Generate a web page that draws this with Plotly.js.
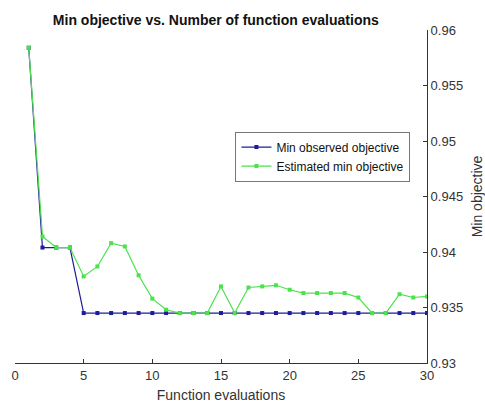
<!DOCTYPE html>
<html><head><meta charset="utf-8">
<script src="https://cdn.plot.ly/plotly-3.0.1.min.js"></script>
<style>html,body{margin:0;padding:0;background:#fff}#c{width:485px;height:403px}</style>
</head><body><div id="c"></div><script>
const evals = [1,2,3,4,5,6,7,8,9,10,11,12,13,14,15,16,17,18,19,20,21,22,23,24,25,26,27,28,29,30];
const minObserved = [0.9584,0.9404,0.9404,0.9404,0.9345,0.9345,0.9345,0.9345,0.9345,0.9345,0.9345,0.9345,0.9345,0.9345,0.9345,0.9345,0.9345,0.9345,0.9345,0.9345,0.9345,0.9345,0.9345,0.9345,0.9345,0.9345,0.9345,0.9345,0.9345,0.9345];
const estimatedMin = [0.9584,0.9414,0.9404,0.9404,0.9378,0.9387,0.9408,0.9405,0.9379,0.9358,0.9348,0.9345,0.9345,0.9345,0.9369,0.9345,0.9368,0.9369,0.9370,0.9366,0.9363,0.9363,0.9363,0.9363,0.9359,0.9345,0.9345,0.9362,0.9359,0.9360];
const xTicks = [0,5,10,15,20,25,30];
const yTicks = [0.93,0.935,0.94,0.945,0.95,0.955,0.96];
const yTickText = ['0.93','0.935','0.94','0.945','0.95','0.955','0.96'];

const font = 'Liberation Sans, Arial, sans-serif';
const traces = [
  {x: evals, y: minObserved, name: 'Min observed objective', type: 'scatter', mode: 'lines+markers',
   line: {color: '#1c1c9c', width: 1.2}, marker: {color: '#1c1c9c', size: 4, symbol: 'square'}},
  {x: evals, y: estimatedMin, name: 'Estimated min objective', type: 'scatter', mode: 'lines+markers',
   line: {color: '#4be24b', width: 1.2}, marker: {color: '#4be24b', size: 4, symbol: 'square'}}
];
const layout = {
  width: 485, height: 403,
  margin: {l: 15, r: 58, t: 30, b: 40},
  paper_bgcolor: '#fff', plot_bgcolor: '#fff',
  font: {family: font, color: '#333', size: 13},
  title: {text: '<b>Min objective vs. Number of function evaluations</b>', font: {size: 14, color: '#111', family: font},
          x: 0.445, xanchor: 'center', y: 0.95, yanchor: 'middle'},
  showlegend: true,
  legend: {x: 0.535, xanchor: 'left', y: 0.695, yanchor: 'top', bgcolor: '#fff', bordercolor: '#777', borderwidth: 1,
           font: {size: 12, color: '#111', family: font}, tracegroupgap: 0, itemwidth: 30},
  xaxis: {range: [0, 30], tickvals: xTicks, ticks: 'inside', ticklen: 4, tickcolor: '#333', showgrid: false, zeroline: false,
          showline: true, linecolor: '#333', linewidth: 1, tickfont: {size: 13, color: '#333'},
          title: {text: 'Function evaluations', font: {size: 14, color: '#333'}, standoff: 12}},
  yaxis: {range: [0.93, 0.96], side: 'right', tickvals: yTicks, ticktext: yTickText, ticks: 'inside', ticklen: 4, tickcolor: '#333',
          showgrid: false, zeroline: false, showline: true, linecolor: '#333', linewidth: 1, tickfont: {size: 13, color: '#333'},
          title: {text: 'Min objective', font: {size: 14, color: '#333'}, standoff: 10}}
};
Plotly.newPlot('c', traces, layout, {displayModeBar: false, staticPlot: true});
</script></body></html>
